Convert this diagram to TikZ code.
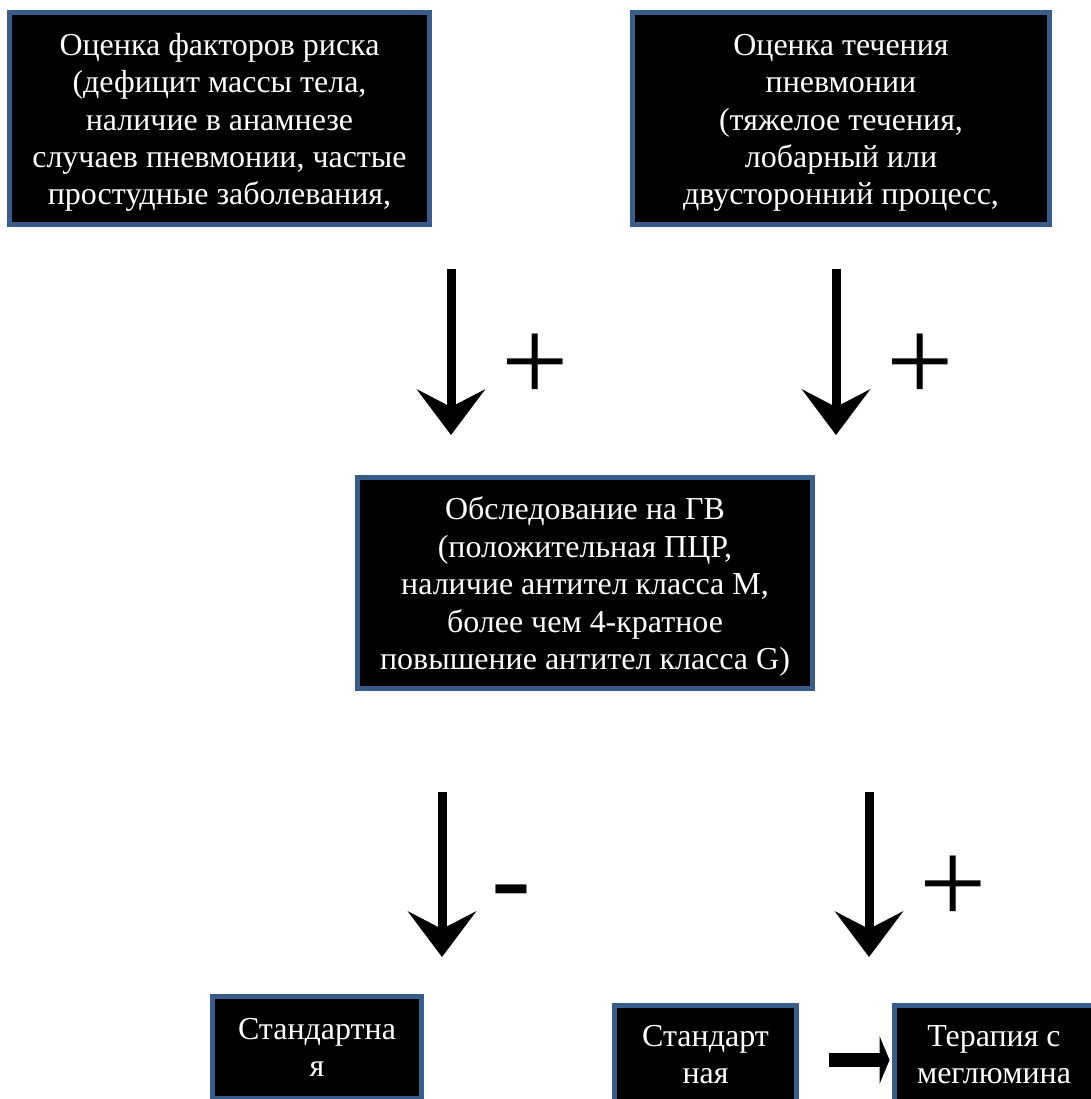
\documentclass[tikz,border=0pt]{standalone}
\usepackage{fontspec}
\setmainfont{Liberation Serif}
\usetikzlibrary{arrows.meta}
\usetikzlibrary{positioning}
\definecolor{boxblue}{HTML}{385D8A}
\newcommand{\boxgap}{\rule{0pt}{0.6cm}}

\begin{document}
\begin{tikzpicture}[
    x=0.02cm, y=-0.02cm,
    flow_box/.style={rectangle, draw=boxblue, line width=0.1cm, fill=black, text=white, align=center, inner sep=0pt, font=\fontsize{18.2}{21.3}\selectfont},
    sign_text/.style={inner sep=0pt, font=\fontsize{68}{68}\selectfont},
    down_arrow/.style={-{Stealth[length=0.92cm, width=1.38cm, inset=0.36cm, line width=0pt]}, line width=0.18cm},
    side_arrow/.style={-{Triangle[length=0.2cm, width=0.96cm, line width=0pt]}, line width=0.28cm}
]
    \clip (0,0) rectangle (1091,1099);

    % Boxes
    \node (risk) [flow_box, minimum width=8.4cm, minimum height=4.24cm] at (219.5,118.5) {\boxgap Оценка факторов риска\\(дефицит массы тела,\\наличие в анамнезе\\случаев пневмонии, частые\\простудные заболевания,};
    \node (course) [flow_box, minimum width=8.34cm, minimum height=4.24cm] at (841,118.5) {\boxgap Оценка течения\\пневмонии\\ (тяжелое течения,\\лобарный или\\двусторонний процесс,};
    \node (test) [flow_box, minimum width=9.1cm, minimum height=4.22cm] at (585,583) {\boxgap Обследование на ГВ\\ (положительная ПЦР,\\наличие антител класса М,\\более чем 4-кратное\\повышение антител класса G)};
    \node (std1) [flow_box, minimum width=4.18cm, minimum height=2.04cm] at (317,1047.5) {Стандартна\\я};
    \node (std2) [flow_box, minimum width=3.65cm, minimum height=1.96cm] at (705.5,1054.5) {Стандарт\\ная};
    \node (mgl) [flow_box, minimum width=4.0cm, minimum height=1.96cm] at (994,1054.5) {Терапия с\\меглюмина};

    % Arrows
    \coordinate (a1top) at (451,269);
    \coordinate (a1tip) at (451,435);
    \coordinate (a2top) at (836,269);
    \coordinate (a2tip) at (836,435);
    \coordinate (a3top) at (442,792);
    \coordinate (a3tip) at (442,957);
    \coordinate (a4top) at (869,792);
    \coordinate (a4tip) at (869,957);
    \draw[down_arrow] (a1top) -- (a1tip);
    \draw[down_arrow] (a2top) -- (a2tip);
    \draw[down_arrow] (a3top) -- (a3tip);
    \draw[down_arrow] (a4top) -- (a4tip);
    \draw[side_arrow, shorten <=0.59cm, shorten >=0.04cm] ([yshift=-0.11cm]std2.east) -- ([yshift=-0.11cm]mgl.west);

    % Signs
    \node (s1) [sign_text] at (535,368) {+};
    \node (s2) [sign_text] at (920,368) {+};
    \node (s3) [sign_text] at (511,901) {-};
    \node (s4) [sign_text] at (953,890) {+};

\end{tikzpicture}
\end{document}
